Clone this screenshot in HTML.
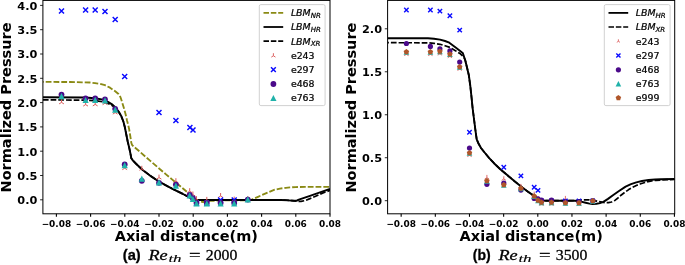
<!DOCTYPE html>
<html><head><meta charset="utf-8"><title>Normalized Pressure</title>
<style>
html,body{margin:0;padding:0;background:#fff;}
svg{display:block;}
text{font-family:"DejaVu Sans","Liberation Sans",sans-serif;fill:#000;}
.b{font-weight:bold;}
.yt{font-weight:bold;font-size:11.3px;text-anchor:end;}
.xt{font-weight:bold;font-size:8.95px;text-anchor:middle;}
.al{font-weight:bold;font-size:14.5px;text-anchor:middle;}
.lg{font-size:9.4px;stroke:#000;stroke-width:0.22px;}
.lgi{font-size:9.4px;font-style:italic;stroke:#000;stroke-width:0.22px;}
.cap{font-family:"Liberation Sans","DejaVu Sans",sans-serif;font-weight:bold;font-size:14.9px;stroke:#000;stroke-width:0.3px;}
.capm{font-family:"Liberation Serif","DejaVu Serif",serif;font-size:14.8px;stroke:#000;stroke-width:0.28px;}
</style></head><body>
<svg width="685" height="265" viewBox="0 0 685 265">
<rect width="685" height="265" fill="#fff"/>
<g id="plot-a">
<clipPath id="ca"><rect x="42.9" y="0.4" width="287.1" height="213.4"/></clipPath>
<g clip-path="url(#ca)">
<path d="M42.9 81.9L70 82L82 82.3L90 82.5L95 83.1L100 83.9L105 85.2L110 87.7L115.2 91.3L118.5 94L120.4 97L121.6 100.5L122.8 104.5L124.2 109L125.6 114.2L127 120.4L128.2 125L129.2 129.5L130.1 135L130.9 140L131.3 142.8L132 144.8L133.5 146.4L140 151.9L150 160.6L158.8 168.2L166 174.4L172 179.4L180 186L187 192L193 197.4L198 201L203 202L210 200.9L225 200.4L245 200.4L250 200.2L252.5 199.3L258 196.8L264 194.2L270 191.6L274.7 189.7L280 188.6L285.8 187.8L290 187.4L295.5 187.1L305 186.85L330 186.8" stroke="#8a8a14" stroke-width="1.85" fill="none" stroke-linejoin="round" stroke-dasharray="5.8 2.0" stroke-dashoffset="5.0"/>
<path d="M42.9 99.9L85 100.1L95 100.7L103 101.8L108 103.4L112 105.4L116 108.8L119 112.6L121.6 117.2L123.4 121.8L124.8 127L126.4 135L127.8 142L129.4 148.6L130.5 154L131.3 158.2L133 160.6L136 163.7L140.3 167.8L143 170.2L150 175.6L160 182.2L172 188.6L183 194L193.5 199.6L197 200L285 200L292 200.6L297 201.2L301 201.4L305 200.6L310 198.6L315 196.5L323 192.9L330 190.4" stroke="#000" stroke-width="1.7" fill="none" stroke-linejoin="round" stroke-dasharray="5.7 2.0" stroke-dashoffset="0"/>
<path d="M42.9 97.3L85 97.5L95 98.2L103 99.6L108 101.8L112 104.3L116 108L119 112L121.6 116.8L123.4 121.5L124.8 127L126.4 135L127.8 142L129.4 148.6L130.5 154L131.3 158.2L133 160.6L136 163.7L140.3 167.8L143 170.2L150 175.6L160 182.2L172 188.6L183 194L193.5 199.6L197 200L281.6 200L288 200.4L294.1 200.8L297 200.5L299.6 199.4L310 195.8L320 192.4L330 188.9" stroke="#000" stroke-width="1.95" fill="none" stroke-linejoin="round"/>
<path d="M61.5 102.4L61.5 99.4M61.5 102.4L59.1 103.9M61.5 102.4L63.9 103.9" stroke="#db5c5c" stroke-width="1.0" fill="none"/>
<path d="M85.6 104.6L85.6 101.6M85.6 104.6L83.2 106.1M85.6 104.6L88 106.1" stroke="#db5c5c" stroke-width="1.0" fill="none"/>
<path d="M95.2 104.4L95.2 101.4M95.2 104.4L92.8 105.9M95.2 104.4L97.6 105.9" stroke="#db5c5c" stroke-width="1.0" fill="none"/>
<path d="M105 103.2L105 100.2M105 103.2L102.6 104.7M105 103.2L107.4 104.7" stroke="#db5c5c" stroke-width="1.0" fill="none"/>
<path d="M115.2 112.6L115.2 109.6M115.2 112.6L112.8 114.1M115.2 112.6L117.6 114.1" stroke="#db5c5c" stroke-width="1.0" fill="none"/>
<path d="M124.7 168.2L124.7 165.2M124.7 168.2L122.3 169.7M124.7 168.2L127.1 169.7" stroke="#db5c5c" stroke-width="1.0" fill="none"/>
<path d="M141.8 168.8L141.8 165.8M141.8 168.8L139.4 170.3M141.8 168.8L144.2 170.3" stroke="#db5c5c" stroke-width="1.0" fill="none"/>
<path d="M159 177.6L159 174.6M159 177.6L156.6 179.1M159 177.6L161.4 179.1" stroke="#db5c5c" stroke-width="1.0" fill="none"/>
<path d="M175.9 181.2L175.9 178.2M175.9 181.2L173.5 182.7M175.9 181.2L178.3 182.7" stroke="#db5c5c" stroke-width="1.0" fill="none"/>
<path d="M189.7 191.2L189.7 188.2M189.7 191.2L187.3 192.7M189.7 191.2L192.1 192.7" stroke="#db5c5c" stroke-width="1.0" fill="none"/>
<path d="M192.9 194.5L192.9 191.5M192.9 194.5L190.5 196M192.9 194.5L195.3 196" stroke="#db5c5c" stroke-width="1.0" fill="none"/>
<path d="M196.5 199.2L196.5 196.2M196.5 199.2L194.1 200.7M196.5 199.2L198.9 200.7" stroke="#db5c5c" stroke-width="1.0" fill="none"/>
<path d="M206.8 199.9L206.8 196.9M206.8 199.9L204.4 201.4M206.8 199.9L209.2 201.4" stroke="#db5c5c" stroke-width="1.0" fill="none"/>
<path d="M220.6 196L220.6 193M220.6 196L218.2 197.5M220.6 196L223 197.5" stroke="#db5c5c" stroke-width="1.0" fill="none"/>
<path d="M234.2 199.6L234.2 196.6M234.2 199.6L231.8 201.1M234.2 199.6L236.6 201.1" stroke="#db5c5c" stroke-width="1.0" fill="none"/>
<path d="M247.8 199L247.8 196M247.8 199L245.4 200.5M247.8 199L250.2 200.5" stroke="#db5c5c" stroke-width="1.0" fill="none"/>
<path d="M59 8.4L64 13.4M59 13.4L64 8.4" stroke="#0a0aff" stroke-width="1.45" fill="none"/>
<path d="M83.1 7.6L88.1 12.6M83.1 12.6L88.1 7.6" stroke="#0a0aff" stroke-width="1.45" fill="none"/>
<path d="M92.7 7.6L97.7 12.6M92.7 12.6L97.7 7.6" stroke="#0a0aff" stroke-width="1.45" fill="none"/>
<path d="M102.5 8.9L107.5 13.9M102.5 13.9L107.5 8.9" stroke="#0a0aff" stroke-width="1.45" fill="none"/>
<path d="M112.7 17L117.7 22M112.7 22L117.7 17" stroke="#0a0aff" stroke-width="1.45" fill="none"/>
<path d="M122.2 73.9L127.2 78.9M122.2 78.9L127.2 73.9" stroke="#0a0aff" stroke-width="1.45" fill="none"/>
<path d="M156.5 110.1L161.5 115.1M156.5 115.1L161.5 110.1" stroke="#0a0aff" stroke-width="1.45" fill="none"/>
<path d="M173.4 118.1L178.4 123.1M173.4 123.1L178.4 118.1" stroke="#0a0aff" stroke-width="1.45" fill="none"/>
<path d="M187.4 124.9L192.4 129.9M187.4 129.9L192.4 124.9" stroke="#0a0aff" stroke-width="1.45" fill="none"/>
<path d="M190.5 127.5L195.5 132.5M190.5 132.5L195.5 127.5" stroke="#0a0aff" stroke-width="1.45" fill="none"/>
<path d="M194 200.7L199 205.7M194 205.7L199 200.7" stroke="#0a0aff" stroke-width="1.45" fill="none"/>
<path d="M204.3 200.7L209.3 205.7M204.3 205.7L209.3 200.7" stroke="#0a0aff" stroke-width="1.45" fill="none"/>
<path d="M218.1 197.4L223.1 202.4M218.1 202.4L223.1 197.4" stroke="#0a0aff" stroke-width="1.45" fill="none"/>
<path d="M231.7 197.4L236.7 202.4M231.7 202.4L236.7 197.4" stroke="#0a0aff" stroke-width="1.45" fill="none"/>
<path d="M245.9 197.9L249.7 201.7M245.9 201.7L249.7 197.9" stroke="#0a0aff" stroke-width="1.2" fill="none"/>
<circle cx="61.5" cy="94.6" r="2.9" fill="#4b0a8a"/>
<circle cx="85.6" cy="98.3" r="2.9" fill="#4b0a8a"/>
<circle cx="95.2" cy="98.3" r="2.9" fill="#4b0a8a"/>
<circle cx="105" cy="99.4" r="2.9" fill="#4b0a8a"/>
<circle cx="115.2" cy="108.8" r="2.9" fill="#4b0a8a"/>
<circle cx="124.7" cy="164.4" r="2.9" fill="#4b0a8a"/>
<circle cx="141.8" cy="180.8" r="2.9" fill="#4b0a8a"/>
<circle cx="159" cy="182.8" r="2.9" fill="#4b0a8a"/>
<circle cx="175.9" cy="184.6" r="2.9" fill="#4b0a8a"/>
<circle cx="189.7" cy="194.8" r="2.9" fill="#4b0a8a"/>
<circle cx="192.9" cy="198.2" r="2.9" fill="#4b0a8a"/>
<circle cx="196.5" cy="203" r="2.9" fill="#4b0a8a"/>
<circle cx="206.8" cy="203" r="2.9" fill="#4b0a8a"/>
<circle cx="220.6" cy="203" r="2.9" fill="#4b0a8a"/>
<circle cx="234.2" cy="203" r="2.9" fill="#4b0a8a"/>
<circle cx="247.8" cy="199.6" r="2.9" fill="#4b0a8a"/>
<path d="M61.5 93.1L64.6 99.3L58.4 99.3Z" fill="#20b2aa"/>
<path d="M85.6 96.9L88.7 103.1L82.5 103.1Z" fill="#20b2aa"/>
<path d="M95.2 96.8L98.3 103L92.1 103Z" fill="#20b2aa"/>
<path d="M105 97.3L108.1 103.5L101.9 103.5Z" fill="#20b2aa"/>
<path d="M115.2 106.5L118.3 112.7L112.1 112.7Z" fill="#20b2aa"/>
<path d="M124.7 162.1L127.8 168.3L121.6 168.3Z" fill="#20b2aa"/>
<path d="M141.8 175.5L144.9 181.7L138.7 181.7Z" fill="#20b2aa"/>
<path d="M159 179.3L162.1 185.5L155.9 185.5Z" fill="#20b2aa"/>
<path d="M175.9 182.5L179 188.7L172.8 188.7Z" fill="#20b2aa"/>
<path d="M189.7 192.3L192.8 198.5L186.6 198.5Z" fill="#20b2aa"/>
<path d="M192.9 195.7L196 201.9L189.8 201.9Z" fill="#20b2aa"/>
<path d="M196.5 200.3L199.6 206.5L193.4 206.5Z" fill="#20b2aa"/>
<path d="M206.8 200.3L209.9 206.5L203.7 206.5Z" fill="#20b2aa"/>
<path d="M220.6 200.3L223.7 206.5L217.5 206.5Z" fill="#20b2aa"/>
<path d="M234.2 200.3L237.3 206.5L231.1 206.5Z" fill="#20b2aa"/>
<path d="M247.8 196.3L250.9 202.5L244.7 202.5Z" fill="#20b2aa"/>
</g>
<rect x="42.9" y="0.4" width="287.1" height="213.4" fill="none" stroke="#000" stroke-width="1.0"/>
<path d="M56.4 213.8V216.8" stroke="#000" stroke-width="1.1"/>
<text class="xt" x="56.4" y="226.6">−0.08</text>
<path d="M90.6 213.8V216.8" stroke="#000" stroke-width="1.1"/>
<text class="xt" x="90.6" y="226.6">−0.06</text>
<path d="M124.8 213.8V216.8" stroke="#000" stroke-width="1.1"/>
<text class="xt" x="124.8" y="226.6">−0.04</text>
<path d="M159 213.8V216.8" stroke="#000" stroke-width="1.1"/>
<text class="xt" x="159" y="226.6">−0.02</text>
<path d="M193.2 213.8V216.8" stroke="#000" stroke-width="1.1"/>
<text class="xt" x="193.2" y="226.6">0.00</text>
<path d="M227.4 213.8V216.8" stroke="#000" stroke-width="1.1"/>
<text class="xt" x="227.4" y="226.6">0.02</text>
<path d="M261.6 213.8V216.8" stroke="#000" stroke-width="1.1"/>
<text class="xt" x="261.6" y="226.6">0.04</text>
<path d="M295.8 213.8V216.8" stroke="#000" stroke-width="1.1"/>
<text class="xt" x="295.8" y="226.6">0.06</text>
<path d="M330 213.8V216.8" stroke="#000" stroke-width="1.1"/>
<text class="xt" x="330" y="226.6">0.08</text>
<path d="M42.9 199.8H40.1" stroke="#000" stroke-width="0.85"/>
<text class="yt" x="37.3" y="204.2">0.0</text>
<path d="M42.9 175.5H40.1" stroke="#000" stroke-width="0.85"/>
<text class="yt" x="37.3" y="179.9">0.5</text>
<path d="M42.9 151.2H40.1" stroke="#000" stroke-width="0.85"/>
<text class="yt" x="37.3" y="155.6">1.0</text>
<path d="M42.9 126.9H40.1" stroke="#000" stroke-width="0.85"/>
<text class="yt" x="37.3" y="131.3">1.5</text>
<path d="M42.9 102.6H40.1" stroke="#000" stroke-width="0.85"/>
<text class="yt" x="37.3" y="107">2.0</text>
<path d="M42.9 78.3H40.1" stroke="#000" stroke-width="0.85"/>
<text class="yt" x="37.3" y="82.7">2.5</text>
<path d="M42.9 54H40.1" stroke="#000" stroke-width="0.85"/>
<text class="yt" x="37.3" y="58.4">3.0</text>
<path d="M42.9 29.7H40.1" stroke="#000" stroke-width="0.85"/>
<text class="yt" x="37.3" y="34.1">3.5</text>
<path d="M42.9 5.4H40.1" stroke="#000" stroke-width="0.85"/>
<text class="yt" x="37.3" y="9.8">4.0</text>
<rect x="259.3" y="4.6" width="65.8" height="101" rx="1.6" fill="#fff" fill-opacity="0.8" stroke="#ccc" stroke-width="0.9"/>
<path d="M263.5 12.9H283.2" stroke="#8a8a14" stroke-width="1.7" stroke-dasharray="5.5 1.85"/>
<text class="lgi" x="290.9" y="16.3">LBM<tspan font-size="7px" dy="1.9">NR</tspan></text>
<path d="M263.5 27H283.2" stroke="#000" stroke-width="1.8"/>
<text class="lgi" x="290.9" y="30.4">LBM<tspan font-size="7px" dy="1.9">HR</tspan></text>
<path d="M263.5 41.1H283.2" stroke="#000" stroke-width="1.7" stroke-dasharray="5.5 1.85"/>
<text class="lgi" x="290.9" y="44.5">LBM<tspan font-size="7px" dy="1.9">XR</tspan></text>
<path d="M273.4 55.8L273.4 53.2M273.4 55.8L271.32 57.1M273.4 55.8L275.48 57.1" stroke="#db5c5c" stroke-width="0.95" fill="none"/>
<text class="lg" x="290.9" y="59.1">e243</text>
<path d="M271 67.2L275.8 72M271 72L275.8 67.2" stroke="#0a0aff" stroke-width="1.45" fill="none"/>
<text class="lg" x="290.9" y="73.4">e297</text>
<circle cx="273.4" cy="84" r="2.9" fill="#4b0a8a"/>
<text class="lg" x="290.9" y="87.4">e468</text>
<path d="M273.4 94.9L276.5 101.1L270.3 101.1Z" fill="#20b2aa"/>
<text class="lg" x="290.9" y="101.4">e763</text>
</g>
<g id="plot-b">
<clipPath id="cb"><rect x="387.6" y="0.4" width="287.1" height="213.4"/></clipPath>
<g clip-path="url(#cb)">
<path d="M387.6 42.7L428 42.8L434 43.3L440 44.3L445 45.7L450 47.4L455 50.4L460.4 53.8L464 57.5L465.5 61L467 67.5L468.8 75L470.3 86L471.5 97L472.6 108L474 119L475.4 130L476.7 139.3L478.5 143.5L481 148L484.6 152.5L489 157.8L494 163.2L500 169L507.2 175L514 180.8L521.7 187L528 191.7L533.6 195.6L538 198.6L541.5 200.3L545 200.7L572 200.7L578 200.2L583.4 199.8L589 199.8L592.8 200.3L597 201.1L602 202.2L605.5 202.7L608.5 202.7L611.5 202L614.9 200.4L618 198L621 195.2L625 192.2L628.7 189.6L632.5 187.4L636.3 185.5L640 184L644 182.7L648 181.7L651.7 180.9L656 180.3L660.9 180L667 179.7L674.7 179.5" stroke="#000" stroke-width="1.7" fill="none" stroke-linejoin="round" stroke-dasharray="5.7 2.0" stroke-dashoffset="4.4"/>
<path d="M387.6 38.2L428 38.3L434 38.7L440 39.6L445 41L449.3 42.7L456 47.7L462.7 52.9L465 59.5L467 67.5L468.8 75L470.3 86L471.5 97L472.6 108L474 119L475.4 130L476.7 139.3L478.5 143.5L481 148L484.6 152.5L489 157.8L494 163.2L500 169L507.2 175L514 180.8L521.7 187L528 191.7L533.6 195.6L538 198.6L541.5 200.3L545 200.7L575 200.8L581 201.6L585.7 202.7L589.5 203.6L592.6 204L596.5 203.8L600 203.1L603.4 201.9L608 198.9L613.3 195L619 191L625.6 186.6L631 184.2L636.3 182.4L642 181L648.6 180L655 179.5L660.9 179.2L674.7 179" stroke="#000" stroke-width="1.95" fill="none" stroke-linejoin="round"/>
<path d="M406.4 54.3L406.4 51.6M406.4 54.3L404.24 55.65M406.4 54.3L408.56 55.65" stroke="#db5c5c" stroke-width="0.9" fill="none"/>
<path d="M430.4 54.3L430.4 51.6M430.4 54.3L428.24 55.65M430.4 54.3L432.56 55.65" stroke="#db5c5c" stroke-width="0.9" fill="none"/>
<path d="M439.9 53.8L439.9 51.1M439.9 53.8L437.74 55.15M439.9 53.8L442.06 55.15" stroke="#db5c5c" stroke-width="0.9" fill="none"/>
<path d="M449.9 56.4L449.9 53.7M449.9 56.4L447.74 57.75M449.9 56.4L452.06 57.75" stroke="#db5c5c" stroke-width="0.9" fill="none"/>
<path d="M459.7 69.1L459.7 66.4M459.7 69.1L457.54 70.45M459.7 69.1L461.86 70.45" stroke="#db5c5c" stroke-width="0.9" fill="none"/>
<path d="M469.5 155.3L469.5 152.6M469.5 155.3L467.34 156.65M469.5 155.3L471.66 156.65" stroke="#db5c5c" stroke-width="0.9" fill="none"/>
<path d="M486.9 177.6L486.9 174.9M486.9 177.6L484.74 178.95M486.9 177.6L489.06 178.95" stroke="#db5c5c" stroke-width="0.9" fill="none"/>
<path d="M503.8 179L503.8 176.3M503.8 179L501.64 180.35M503.8 179L505.96 180.35" stroke="#db5c5c" stroke-width="0.9" fill="none"/>
<path d="M520.9 186.6L520.9 183.9M520.9 186.6L518.74 187.95M520.9 186.6L523.06 187.95" stroke="#db5c5c" stroke-width="0.9" fill="none"/>
<path d="M534.2 194.4L534.2 191.7M534.2 194.4L532.04 195.75M534.2 194.4L536.36 195.75" stroke="#db5c5c" stroke-width="0.9" fill="none"/>
<path d="M538 199L538 196.3M538 199L535.84 200.35M538 199L540.16 200.35" stroke="#db5c5c" stroke-width="0.9" fill="none"/>
<path d="M541.5 204.2L541.5 201.5M541.5 204.2L539.34 205.55M541.5 204.2L543.66 205.55" stroke="#db5c5c" stroke-width="0.9" fill="none"/>
<path d="M551.5 204.2L551.5 201.5M551.5 204.2L549.34 205.55M551.5 204.2L553.66 205.55" stroke="#db5c5c" stroke-width="0.9" fill="none"/>
<path d="M565.4 198.6L565.4 195.9M565.4 198.6L563.24 199.95M565.4 198.6L567.56 199.95" stroke="#db5c5c" stroke-width="0.9" fill="none"/>
<path d="M579 204.3L579 201.6M579 204.3L576.84 205.65M579 204.3L581.16 205.65" stroke="#db5c5c" stroke-width="0.9" fill="none"/>
<path d="M592.8 202.2L592.8 199.5M592.8 202.2L590.64 203.55M592.8 202.2L594.96 203.55" stroke="#db5c5c" stroke-width="0.9" fill="none"/>
<path d="M404.2 7.8L408.6 12.2M404.2 12.2L408.6 7.8" stroke="#0a0aff" stroke-width="1.4" fill="none"/>
<path d="M428.2 7.8L432.6 12.2M428.2 12.2L432.6 7.8" stroke="#0a0aff" stroke-width="1.4" fill="none"/>
<path d="M437.7 8.9L442.1 13.3M437.7 13.3L442.1 8.9" stroke="#0a0aff" stroke-width="1.4" fill="none"/>
<path d="M447.7 13.6L452.1 18M447.7 18L452.1 13.6" stroke="#0a0aff" stroke-width="1.4" fill="none"/>
<path d="M457.5 27.9L461.9 32.3M457.5 32.3L461.9 27.9" stroke="#0a0aff" stroke-width="1.4" fill="none"/>
<path d="M467.3 130L471.7 134.4M467.3 134.4L471.7 130" stroke="#0a0aff" stroke-width="1.4" fill="none"/>
<path d="M501.6 165L506 169.4M501.6 169.4L506 165" stroke="#0a0aff" stroke-width="1.4" fill="none"/>
<path d="M518.7 173.7L523.1 178.1M518.7 178.1L523.1 173.7" stroke="#0a0aff" stroke-width="1.4" fill="none"/>
<path d="M532 185L536.4 189.4M532 189.4L536.4 185" stroke="#0a0aff" stroke-width="1.4" fill="none"/>
<path d="M535.8 188.2L540.2 192.6M535.8 192.6L540.2 188.2" stroke="#0a0aff" stroke-width="1.4" fill="none"/>
<path d="M539.3 198.7L543.7 203.1M539.3 203.1L543.7 198.7" stroke="#0a0aff" stroke-width="1.4" fill="none"/>
<path d="M549.3 198.7L553.7 203.1M549.3 203.1L553.7 198.7" stroke="#0a0aff" stroke-width="1.4" fill="none"/>
<path d="M563.2 198.7L567.6 203.1M563.2 203.1L567.6 198.7" stroke="#0a0aff" stroke-width="1.4" fill="none"/>
<path d="M576.8 198.7L581.2 203.1M576.8 203.1L581.2 198.7" stroke="#0a0aff" stroke-width="1.4" fill="none"/>
<path d="M590.6 198.7L595 203.1M590.6 203.1L595 198.7" stroke="#0a0aff" stroke-width="1.4" fill="none"/>
<circle cx="406.4" cy="43.5" r="2.6" fill="#4b0a8a"/>
<circle cx="430.4" cy="46.4" r="2.6" fill="#4b0a8a"/>
<circle cx="439.9" cy="48.8" r="2.6" fill="#4b0a8a"/>
<circle cx="449.9" cy="50.9" r="2.6" fill="#4b0a8a"/>
<circle cx="459.7" cy="62" r="2.6" fill="#4b0a8a"/>
<circle cx="469.5" cy="148" r="2.6" fill="#4b0a8a"/>
<circle cx="486.9" cy="184.3" r="2.6" fill="#4b0a8a"/>
<circle cx="503.8" cy="183" r="2.6" fill="#4b0a8a"/>
<circle cx="520.9" cy="190.1" r="2.6" fill="#4b0a8a"/>
<circle cx="534.2" cy="198.4" r="2.6" fill="#4b0a8a"/>
<circle cx="538" cy="198.8" r="2.6" fill="#4b0a8a"/>
<circle cx="541.5" cy="200.2" r="2.6" fill="#4b0a8a"/>
<circle cx="551.5" cy="200.2" r="2.6" fill="#4b0a8a"/>
<circle cx="565.4" cy="201.8" r="2.6" fill="#4b0a8a"/>
<circle cx="579" cy="201.8" r="2.6" fill="#4b0a8a"/>
<circle cx="592.8" cy="200.5" r="2.6" fill="#4b0a8a"/>
<path d="M406.4 49.15L409.25 54.85L403.55 54.85Z" fill="#20b2aa"/>
<path d="M430.4 49.15L433.25 54.85L427.55 54.85Z" fill="#20b2aa"/>
<path d="M439.9 48.65L442.75 54.35L437.05 54.35Z" fill="#20b2aa"/>
<path d="M449.9 51.25L452.75 56.95L447.05 56.95Z" fill="#20b2aa"/>
<path d="M459.7 63.95L462.55 69.65L456.85 69.65Z" fill="#20b2aa"/>
<path d="M469.5 150.15L472.35 155.85L466.65 155.85Z" fill="#20b2aa"/>
<path d="M486.9 178.05L489.75 183.75L484.05 183.75Z" fill="#20b2aa"/>
<path d="M503.8 181.95L506.65 187.65L500.95 187.65Z" fill="#20b2aa"/>
<path d="M520.9 185.45L523.75 191.15L518.05 191.15Z" fill="#20b2aa"/>
<path d="M534.2 193.35L537.05 199.05L531.35 199.05Z" fill="#20b2aa"/>
<path d="M538 197.65L540.85 203.35L535.15 203.35Z" fill="#20b2aa"/>
<path d="M541.5 199.65L544.35 205.35L538.65 205.35Z" fill="#20b2aa"/>
<path d="M551.5 199.55L554.35 205.25L548.65 205.25Z" fill="#20b2aa"/>
<path d="M565.4 199.95L568.25 205.65L562.55 205.65Z" fill="#20b2aa"/>
<path d="M579 199.95L581.85 205.65L576.15 205.65Z" fill="#20b2aa"/>
<path d="M592.8 198.05L595.65 203.75L589.95 203.75Z" fill="#20b2aa"/>
<path d="M406.4 49.1L409.16 51.1L408.1 54.35L404.7 54.35L403.64 51.1Z" fill="#b0562a"/>
<path d="M430.4 49.1L433.16 51.1L432.1 54.35L428.7 54.35L427.64 51.1Z" fill="#b0562a"/>
<path d="M439.9 48.6L442.66 50.6L441.6 53.85L438.2 53.85L437.14 50.6Z" fill="#b0562a"/>
<path d="M449.9 51.2L452.66 53.2L451.6 56.45L448.2 56.45L447.14 53.2Z" fill="#b0562a"/>
<path d="M459.7 63.9L462.46 65.9L461.4 69.15L458 69.15L456.94 65.9Z" fill="#b0562a"/>
<path d="M469.5 150.1L472.26 152.1L471.2 155.35L467.8 155.35L466.74 152.1Z" fill="#b0562a"/>
<path d="M486.9 178L489.66 180L488.6 183.25L485.2 183.25L484.14 180Z" fill="#b0562a"/>
<path d="M503.8 181.9L506.56 183.9L505.5 187.15L502.1 187.15L501.04 183.9Z" fill="#b0562a"/>
<path d="M520.9 185.4L523.66 187.4L522.6 190.65L519.2 190.65L518.14 187.4Z" fill="#b0562a"/>
<path d="M534.2 193.3L536.96 195.3L535.9 198.55L532.5 198.55L531.44 195.3Z" fill="#b0562a"/>
<path d="M538 197.6L540.76 199.6L539.7 202.85L536.3 202.85L535.24 199.6Z" fill="#b0562a"/>
<path d="M541.5 199.6L544.26 201.6L543.2 204.85L539.8 204.85L538.74 201.6Z" fill="#b0562a"/>
<path d="M551.5 199.5L554.26 201.5L553.2 204.75L549.8 204.75L548.74 201.5Z" fill="#b0562a"/>
<path d="M565.4 199.9L568.16 201.9L567.1 205.15L563.7 205.15L562.64 201.9Z" fill="#b0562a"/>
<path d="M579 199.9L581.76 201.9L580.7 205.15L577.3 205.15L576.24 201.9Z" fill="#b0562a"/>
<path d="M592.8 198L595.56 200L594.5 203.25L591.1 203.25L590.04 200Z" fill="#b0562a"/>
</g>
<rect x="387.6" y="0.4" width="287.1" height="213.4" fill="none" stroke="#000" stroke-width="1.0"/>
<path d="M401.16 213.8V216.8" stroke="#000" stroke-width="1.1"/>
<text class="xt" x="401.16" y="226.6">−0.08</text>
<path d="M435.32 213.8V216.8" stroke="#000" stroke-width="1.1"/>
<text class="xt" x="435.32" y="226.6">−0.06</text>
<path d="M469.48 213.8V216.8" stroke="#000" stroke-width="1.1"/>
<text class="xt" x="469.48" y="226.6">−0.04</text>
<path d="M503.64 213.8V216.8" stroke="#000" stroke-width="1.1"/>
<text class="xt" x="503.64" y="226.6">−0.02</text>
<path d="M537.8 213.8V216.8" stroke="#000" stroke-width="1.1"/>
<text class="xt" x="537.8" y="226.6">0.00</text>
<path d="M571.96 213.8V216.8" stroke="#000" stroke-width="1.1"/>
<text class="xt" x="571.96" y="226.6">0.02</text>
<path d="M606.12 213.8V216.8" stroke="#000" stroke-width="1.1"/>
<text class="xt" x="606.12" y="226.6">0.04</text>
<path d="M640.28 213.8V216.8" stroke="#000" stroke-width="1.1"/>
<text class="xt" x="640.28" y="226.6">0.06</text>
<path d="M674.44 213.8V216.8" stroke="#000" stroke-width="1.1"/>
<text class="xt" x="674.44" y="226.6">0.08</text>
<path d="M387.6 200.7H384.8" stroke="#000" stroke-width="0.85"/>
<text class="yt" x="382" y="204.8">0.0</text>
<path d="M387.6 157.72H384.8" stroke="#000" stroke-width="0.85"/>
<text class="yt" x="382" y="161.82">0.5</text>
<path d="M387.6 114.75H384.8" stroke="#000" stroke-width="0.85"/>
<text class="yt" x="382" y="118.85">1.0</text>
<path d="M387.6 71.77H384.8" stroke="#000" stroke-width="0.85"/>
<text class="yt" x="382" y="75.87">1.5</text>
<path d="M387.6 28.8H384.8" stroke="#000" stroke-width="0.85"/>
<text class="yt" x="382" y="32.9">2.0</text>
<rect x="604.3" y="4.6" width="65.8" height="101" rx="1.6" fill="#fff" fill-opacity="0.8" stroke="#ccc" stroke-width="0.9"/>
<path d="M608.5 12.9H628.2" stroke="#000" stroke-width="1.8"/>
<text class="lgi" x="635.8" y="16.3">LBM<tspan font-size="7px" dy="1.9">HR</tspan></text>
<path d="M608.5 27H628.2" stroke="#000" stroke-width="1.7" stroke-dasharray="5.5 1.85"/>
<text class="lgi" x="635.8" y="30.4">LBM<tspan font-size="7px" dy="1.9">XR</tspan></text>
<path d="M618.4 41.3L618.4 39.3M618.4 41.3L616.8 42.3M618.4 41.3L620 42.3" stroke="#db5c5c" stroke-width="0.85" fill="none"/>
<text class="lg" x="635.8" y="44.5">e243</text>
<path d="M616.3 53.4L620.5 57.6M616.3 57.6L620.5 53.4" stroke="#0a0aff" stroke-width="1.35" fill="none"/>
<text class="lg" x="635.8" y="59.1">e297</text>
<circle cx="618.4" cy="69.8" r="2.6" fill="#4b0a8a"/>
<text class="lg" x="635.8" y="73.4">e468</text>
<path d="M618.4 81L621.2 86.6L615.6 86.6Z" fill="#20b2aa"/>
<text class="lg" x="635.8" y="87.4">e763</text>
<path d="M618.4 95L621.16 97L620.1 100.25L616.7 100.25L615.64 97Z" fill="#b0562a"/>
<text class="lg" x="635.8" y="101.4">e999</text>
</g>
<text class="al" transform="translate(11.2 107.5) rotate(-90)">Normalized Pressure</text>
<text class="al" transform="translate(355.9 107.6) rotate(-90)">Normalized Pressure</text>
<text class="al" x="186.3" y="241.3">Axial distance(m)</text>
<text class="al" x="531.2" y="241.3">Axial distance(m)</text>
<text class="cap" x="122.8" y="260.1" textLength="17.9" lengthAdjust="spacingAndGlyphs">(a)</text>
<text class="capm" font-style="italic" x="148.4" y="260.1" textLength="19.2" lengthAdjust="spacingAndGlyphs">Re</text>
<text class="capm" font-style="italic" style="font-size:10.4px;stroke-width:0.12px" x="168.4" y="262.1" textLength="13.2" lengthAdjust="spacingAndGlyphs">th</text>
<text class="capm" x="189.1" y="260.1" textLength="11.6" lengthAdjust="spacingAndGlyphs">=</text>
<text class="capm" x="205.8" y="260.1" textLength="31.6" lengthAdjust="spacingAndGlyphs">2000</text>
<text class="cap" x="472.8" y="260.1" textLength="17.9" lengthAdjust="spacingAndGlyphs">(b)</text>
<text class="capm" font-style="italic" x="498.4" y="260.1" textLength="19.2" lengthAdjust="spacingAndGlyphs">Re</text>
<text class="capm" font-style="italic" style="font-size:10.4px;stroke-width:0.12px" x="518.4" y="262.1" textLength="13.2" lengthAdjust="spacingAndGlyphs">th</text>
<text class="capm" x="539.1" y="260.1" textLength="11.6" lengthAdjust="spacingAndGlyphs">=</text>
<text class="capm" x="555.8" y="260.1" textLength="31.6" lengthAdjust="spacingAndGlyphs">3500</text>
</svg>
</body></html>
